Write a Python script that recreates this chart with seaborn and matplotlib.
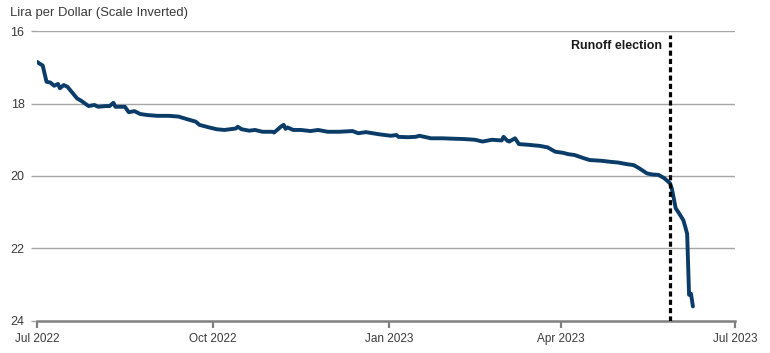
import pandas as pd
import numpy as np
import seaborn as sns
import matplotlib.pyplot as plt
import matplotlib.dates as mdates
from matplotlib import font_manager

# values (USD/TRY, plotted inverted)
DATES = [
    "2022-07-01", "2022-07-03", "2022-07-04", "2022-07-06", "2022-07-08", "2022-07-10",
    "2022-07-12", "2022-07-13", "2022-07-15", "2022-07-17", "2022-07-19", "2022-07-22",
    "2022-07-24", "2022-07-28", "2022-07-31", "2022-08-02", "2022-08-06", "2022-08-08",
    "2022-08-10", "2022-08-11", "2022-08-16", "2022-08-18", "2022-08-21", "2022-08-24",
    "2022-08-28", "2022-09-02", "2022-09-08", "2022-09-13", "2022-09-18", "2022-09-22",
    "2022-09-24", "2022-09-29", "2022-10-03", "2022-10-07", "2022-10-13", "2022-10-14",
    "2022-10-16", "2022-10-20", "2022-10-23", "2022-10-27", "2022-11-01", "2022-11-02",
    "2022-11-06", "2022-11-07", "2022-11-08", "2022-11-09", "2022-11-12", "2022-11-16",
    "2022-11-21", "2022-11-25", "2022-11-30", "2022-12-06", "2022-12-13", "2022-12-16",
    "2022-12-20", "2022-12-27", "2023-01-02", "2023-01-05", "2023-01-06", "2023-01-11",
    "2023-01-15", "2023-01-17", "2023-01-23", "2023-01-29", "2023-02-03", "2023-02-09",
    "2023-02-15", "2023-02-19", "2023-02-24", "2023-03-01", "2023-03-02", "2023-03-04",
    "2023-03-05", "2023-03-08", "2023-03-10", "2023-03-15", "2023-03-21", "2023-03-25",
    "2023-03-29", "2023-04-02", "2023-04-05", "2023-04-08", "2023-04-13", "2023-04-16",
    "2023-04-22", "2023-04-27", "2023-05-01", "2023-05-05", "2023-05-09", "2023-05-12",
    "2023-05-16", "2023-05-19", "2023-05-22", "2023-05-25", "2023-05-28", "2023-05-29",
    "2023-05-31", "2023-06-02", "2023-06-04", "2023-06-05", "2023-06-06", "2023-06-07",
    "2023-06-08", "2023-06-09",
]
LIRA = [
    16.85, 16.92, 16.95, 17.40, 17.42, 17.51,
    17.46, 17.58, 17.49, 17.54, 17.67, 17.86,
    17.92, 18.07, 18.04, 18.09, 18.07, 18.07,
    17.98, 18.09, 18.09, 18.24, 18.21, 18.29,
    18.32, 18.34, 18.34, 18.36, 18.44, 18.50,
    18.59, 18.66, 18.71, 18.73, 18.69, 18.64,
    18.71, 18.75, 18.73, 18.78, 18.78, 18.80,
    18.62, 18.59, 18.70, 18.66, 18.73, 18.73,
    18.76, 18.73, 18.78, 18.78, 18.76, 18.82,
    18.79, 18.85, 18.89, 18.87, 18.92, 18.93,
    18.92, 18.89, 18.96, 18.96, 18.97, 18.98,
    19.00, 19.05, 19.00, 19.02, 18.92, 19.03,
    19.05, 18.96, 19.12, 19.14, 19.17, 19.21,
    19.33, 19.36, 19.40, 19.42, 19.51, 19.56,
    19.58, 19.61, 19.63, 19.67, 19.70, 19.79,
    19.93, 19.96, 19.97, 20.06, 20.20, 20.35,
    20.89, 21.05, 21.22, 21.40, 21.60, 23.28,
    23.25, 23.60,
]
ELECTION_DATE = "2023-05-28"
ELECTION_LABEL = "Runoff election"
Y_TICKS = [16, 18, 20, 22, 24]
X_TICKS = ["2022-07-01", "2022-10-01", "2023-01-01", "2023-04-01", "2023-07-01"]

installed = {f.name for f in font_manager.fontManager.ttflist}
base_font = "Liberation Sans" if "Liberation Sans" in installed else "DejaVu Sans"

sns.set_style("white")
plt.rcParams["font.family"] = [base_font, "DejaVu Sans"]

df = pd.DataFrame({"date": pd.to_datetime(DATES), "lira": LIRA})

fig = plt.figure(figsize=(7.7, 3.53), dpi=100)
ax = fig.add_axes([0.048, 0.091, 0.9065, 0.821])

grid_c = "#a6a6a6"
for v in Y_TICKS[:-1]:
    ax.axhline(v, color=grid_c, lw=1.0, zorder=0)

sns.lineplot(data=df, x="date", y="lira", ax=ax, color="#0b3c68", lw=2.8, zorder=3)
ax.axvline(pd.Timestamp(ELECTION_DATE), ymin=0, ymax=0.985, color="black",
           lw=2.3, ls=(0, (1.6, 1.0)), zorder=4)
ax.text(pd.Timestamp(ELECTION_DATE) - pd.Timedelta(days=4), 16.4, ELECTION_LABEL,
        ha="right", va="center", fontsize=9, fontweight="bold", color="#1a1a1a")

ax.set_ylim(24, 16)
ax.set_xlim(pd.Timestamp(X_TICKS[0]), pd.Timestamp(X_TICKS[-1]))
ax.set_yticks(Y_TICKS)
ax.set_yticklabels([str(v) for v in Y_TICKS])
ax.set_xticks(pd.to_datetime(X_TICKS))
ax.xaxis.set_major_formatter(mdates.DateFormatter("%b %Y"))

for s in ["top", "right", "left"]:
    ax.spines[s].set_visible(False)
ax.spines["bottom"].set_color("#808080")
ax.spines["bottom"].set_linewidth(1.8)

ax.tick_params(axis="y", left=True, length=4, width=1.0, color=grid_c, pad=5,
               labelsize=9, labelcolor="#3a3a3a")
ax.tick_params(axis="x", bottom=True, length=5, width=1.6, color="#808080", pad=4,
               labelsize=8.5, labelcolor="#3a3a3a", direction="out")
ax.set_xlabel("")
ax.set_ylabel("")

fig.text(0.013, 0.962, "Lira per Dollar (Scale Inverted)", ha="left", va="center",
         fontsize=9.4, color="#3a3a3a")

fig.savefig("out.png", dpi=100)
